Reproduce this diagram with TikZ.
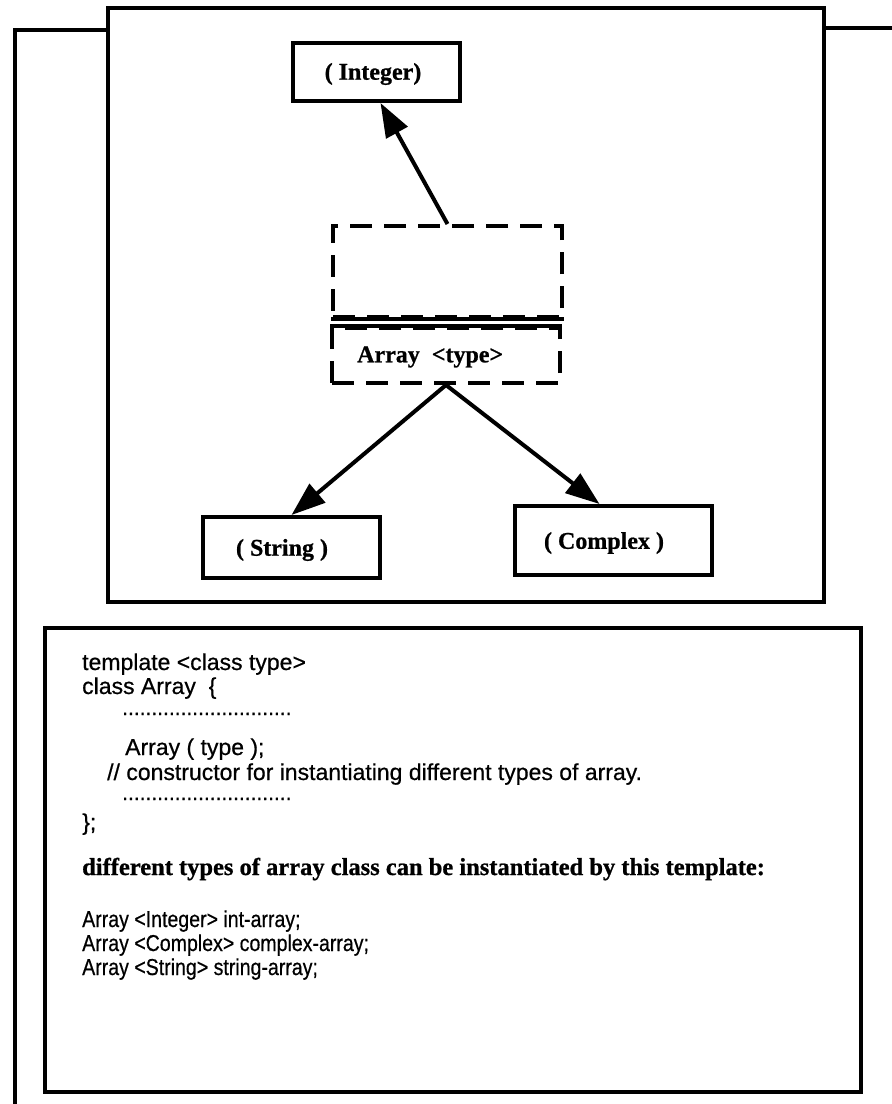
\documentclass[tikz,border=0pt]{standalone}
\usepackage{fontspec}
\setmainfont[BoldFeatures={FakeBold=0.8}]{Liberation Serif}
\newfontfamily\codefont[FakeBold=0.6]{Liberation Sans}
\usetikzlibrary{arrows.meta}

\begin{document}
\begin{tikzpicture}[x=1pt,y=-1pt,
  frame/.style={line width=4.5pt},
  typebox/.style={draw, line width=4pt, rectangle, inner sep=0pt},
  dashbox/.style={draw, line width=4pt, dash pattern=on 22pt off 12pt, rectangle, inner sep=0pt},
  typelabel/.style={inner sep=0pt, font=\bfseries\fontsize{24}{27}\selectfont},
  link/.style={line width=4pt, -{Triangle[length=34pt,width=24pt]}},
  code/.style={anchor=base west, inner sep=0pt, font=\codefont\fontsize{23}{26}\selectfont},
  dots/.style={anchor=base west, inner sep=0pt, font=\codefont\fontsize{21}{24}\selectfont},
  decl/.style={anchor=base west, inner sep=0pt, font=\codefont\fontsize{23}{26}\selectfont},
  note/.style={anchor=base west, inner sep=0pt, font=\bfseries\fontsize{24.5}{27}\selectfont}
]
\useasboundingbox (0,0) rectangle (892,1104);

% outer frame, partly hidden behind the diagram panel
\draw[frame] (15,1104) -- (15,30) -- (108,30);
\draw[frame] (824,28) -- (892,28);

% diagram panel and code panel
\draw[frame] (108,8) rectangle (824,602);
\draw[frame] (45,628) rectangle (861,1092);

% class boxes
\node[typebox, minimum width=167pt, minimum height=58pt] (integer) at (376.5,72) {};
\node[typelabel] (integerlabel) at (373,74) {( Integer)};

\node[dashbox, minimum width=229pt, minimum height=91pt] (tplbody) at (447.5,271.5) {};
\draw[line width=4pt] (tplbody.south west) -- (tplbody.south east);

\node[dashbox, minimum width=228pt, minimum height=55pt] (tplname) at (446,355.5) {};
\draw[line width=4pt] (tplname.north west) -- (tplname.north east);
\node[typelabel, anchor=west] (tpllabel) at (357,357) {Array\ \ <type>};

\node[typebox, minimum width=177pt, minimum height=61pt] (string) at (291.5,547.5) {};
\node[typelabel] (stringlabel) at (282,550) {( String )};

\node[typebox, minimum width=197pt, minimum height=69pt] (complex) at (613.5,540.5) {};
\node[typelabel] (complexlabel) at (604,543) {( Complex )};

% instantiation links
\draw[link] (tplbody.north) -- ([xshift=4pt]integer.south);
\draw[link] (tplname.south) -- (string.north);
\draw[link] (tplname.south) -- ([xshift=-14pt]complex.north);

% template source
\node[code] (c1) at (82,670) {template <class type>};
\node[code] (c2) at (82,694) {class Array\ \ \{};
\node[dots] (c3) at (122,715) {.............................};
\node[code] (c4) at (125,755) {Array ( type );};
\node[code] (c5) at (107,780) {// constructor for instantiating different types of array.};
\node[dots] (c6) at (122,800) {.............................};
\node[code] (c7) at (82,830) {\};};
\node[note] (c8) at (82,875) {different types of array class can be instantiated by this template:};
\node[decl] (c9) at (82,927) {\scalebox{0.85}[1]{Array <Integer> int-array;}};
\node[decl] (c10) at (82,951) {\scalebox{0.85}[1]{Array <Complex> complex-array;}};
\node[decl] (c11) at (82,975) {\scalebox{0.85}[1]{Array <String> string-array;}};
\end{tikzpicture}
\end{document}
